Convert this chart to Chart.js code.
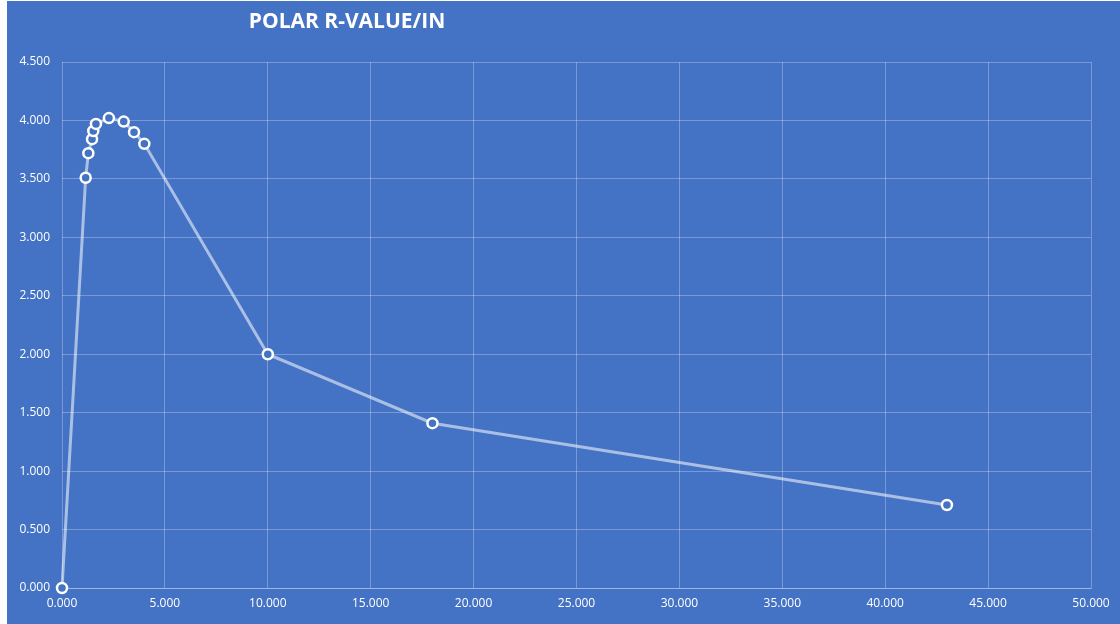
<!DOCTYPE html>
<html>
<head>
<meta charset="utf-8">
<script src="https://cdn.jsdelivr.net/npm/chart.js@4"></script>
<style>
  html, body { margin: 0; padding: 0; background: #fff; }
  #wrap { position: absolute; left: 7px; top: 1px; width: 1113px; height: 623px; background: #4472C4; }
</style>
</head>
<body>
<div id="wrap"><canvas id="polarChart"></canvas></div>
<script>
const chartTitle = "POLAR R-VALUE/IN";
const thickness = [0, 1.15, 1.28, 1.46, 1.52, 1.65, 2.28, 3.0, 3.5, 4.0, 10.0, 18.0, 43.0];
const rPerInch = [0, 3.51, 3.72, 3.84, 3.91, 3.97, 4.02, 3.99, 3.90, 3.80, 2.0, 1.41, 0.71];
const xTicks = [0, 5, 10, 15, 20, 25, 30, 35, 40, 45, 50];
const yTicks = [0, 0.5, 1, 1.5, 2, 2.5, 3, 3.5, 4, 4.5];

(function() {
  drawChart()
})();

function drawChart() {
  const ctx = document.getElementById("polarChart");
  const points = thickness.map((t, i) => ({ x: t, y: rPerInch[i] }));
  const gridColor = "rgba(255, 255, 255, 0.28)";

  // title sits left of centre like the original
  const titlePlugin = {
    id: "leftTitle",
    afterDraw(chart) {
      const c = chart.ctx;
      c.save();
      c.fillStyle = "#fff";
      c.font = "bold 21px 'Open Sans'";
      c.textAlign = "center";
      c.textBaseline = "middle";
      c.fillText(chartTitle, 340, 21);
      c.restore();
    }
  };

  new Chart(ctx, {
    type: "scatter",
    data: {
      datasets: [{
        data: points,
        showLine: true,
        clip: false,
        borderColor: "rgba(255, 255, 255, 0.55)",
        borderWidth: 3,
        pointRadius: 5,
        pointBorderWidth: 2.5,
        pointBorderColor: "#fff",
        pointBackgroundColor: "#4472C4"
      }]
    },
    options: {
      responsive: true,
      maintainAspectRatio: false,
      animation: false,
      layout: { padding: { top: 61, right: 29, bottom: 0, left: 0 } },
      plugins: {
        legend: { display: false },
        tooltip: { enabled: false }
      },
      scales: {
        x: {
          min: 0, max: 50,
          afterBuildTicks: s => { s.ticks = xTicks.map(v => ({ value: v })); },
          afterFit: s => { s.height = 36; },
          ticks: {
            color: "#fff",
            font: { family: "'Open Sans'", size: 12 },
            padding: 8,
            callback: v => v.toFixed(3)
          },
          grid: { color: gridColor, drawTicks: false },
          border: { color: gridColor }
        },
        y: {
          min: 0, max: 4.5,
          afterBuildTicks: s => { s.ticks = yTicks.map(v => ({ value: v })); },
          afterFit: s => { s.width = 55; },
          ticks: {
            color: "#fff",
            font: { family: "'Open Sans'", size: 12 },
            padding: 12,
            callback: v => v.toFixed(3)
          },
          grid: { color: gridColor, drawTicks: false },
          border: { display: false }
        }
      }
    },
    plugins: [titlePlugin]
  });
}
</script>
</body>
</html>
